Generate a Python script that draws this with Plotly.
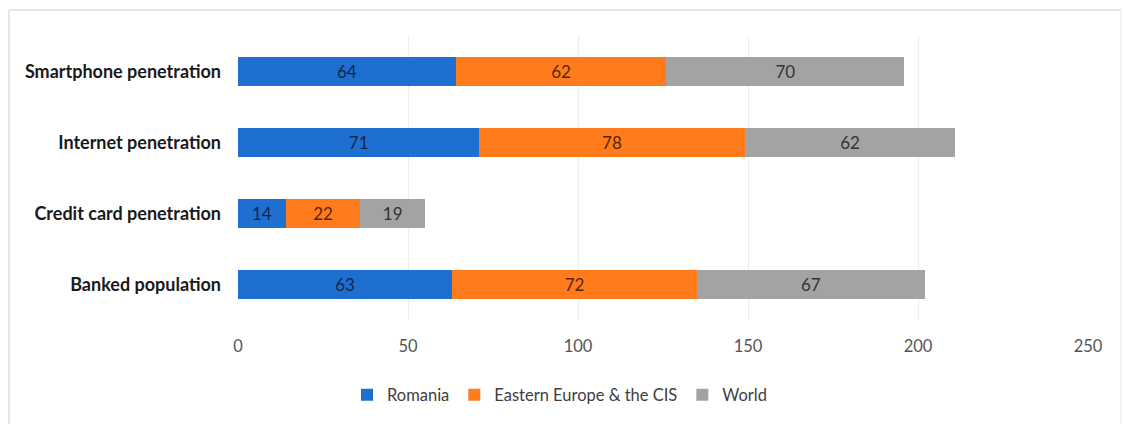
import plotly.graph_objects as go

categories = ["Smartphone penetration", "Internet penetration", "Credit card penetration", "Banked population"]
romania = [64, 71, 14, 63]
eastern_europe = [62, 78, 22, 72]
world = [70, 62, 19, 67]
x_ticks = [0, 50, 100, 150, 200, 250]

series = [
    ("Romania", romania, "#1f6fd0", "#12284a"),
    ("Eastern Europe & the CIS", eastern_europe, "#ff7b1c", "#5a2606"),
    ("World", world, "#a3a3a3", "#333333"),
]

FONT = "Lato, 'Open Sans', sans-serif"

fig = go.Figure()
for name, vals, color, tcolor in series:
    fig.add_trace(go.Bar(
        y=categories, x=vals, name=name, orientation="h",
        marker=dict(color=color, line=dict(width=0)),
        text=[str(v) for v in vals], textposition="inside",
        insidetextanchor="middle",
        textfont=dict(family=FONT, size=17, color=tcolor),
        hoverinfo="skip",
    ))

L, R, T, B = 238, 35, 36, 105
W, H = 1123, 425
pw, ph = W - L - R, H - T - B

def px_x(px):
    return (px - L) / pw

def px_y(py):
    return (H - B - py) / ph

frame_color = "#e6e6e6"
shapes = [
    dict(type="line", xref="paper", yref="paper", x0=px_x(9), x1=px_x(1121), y0=px_y(10), y1=px_y(10),
         line=dict(color=frame_color, width=2)),
    dict(type="line", xref="paper", yref="paper", x0=px_x(9), x1=px_x(9), y0=px_y(10), y1=px_y(424),
         line=dict(color=frame_color, width=2)),
    dict(type="line", xref="paper", yref="paper", x0=px_x(1121), x1=px_x(1121), y0=px_y(10), y1=px_y(424),
         line=dict(color=frame_color, width=1)),
]

fig.update_layout(
    barmode="stack",
    bargap=0.6,
    width=W, height=H,
    margin=dict(l=L, r=R, t=T, b=B),
    paper_bgcolor="white",
    plot_bgcolor="white",
    font=dict(family=FONT, size=16, color="#444444"),
    showlegend=True,
    legend=dict(orientation="h", x=px_x(560), xanchor="center", y=px_y(395), yanchor="middle",
                font=dict(family=FONT, size=16.5, color="#404040"), itemwidth=30,
                traceorder="normal"),
    xaxis=dict(range=[0, 250], tickvals=x_ticks, showgrid=True, gridcolor="#ececec", gridwidth=1,
               zeroline=False, showline=False, ticks="",
               ticklabelstandoff=14,
               tickfont=dict(family=FONT, size=16.5, color="#555555")),
    yaxis=dict(autorange="reversed", showgrid=False, zeroline=False, showline=False, ticks="",
               ticklabelstandoff=16,
               tickfont=dict(family=FONT, size=18, color="#1a1a1a", weight="bold")),
    shapes=shapes,
    uniformtext=dict(mode=False),
)

fig.write_html("out.html")
